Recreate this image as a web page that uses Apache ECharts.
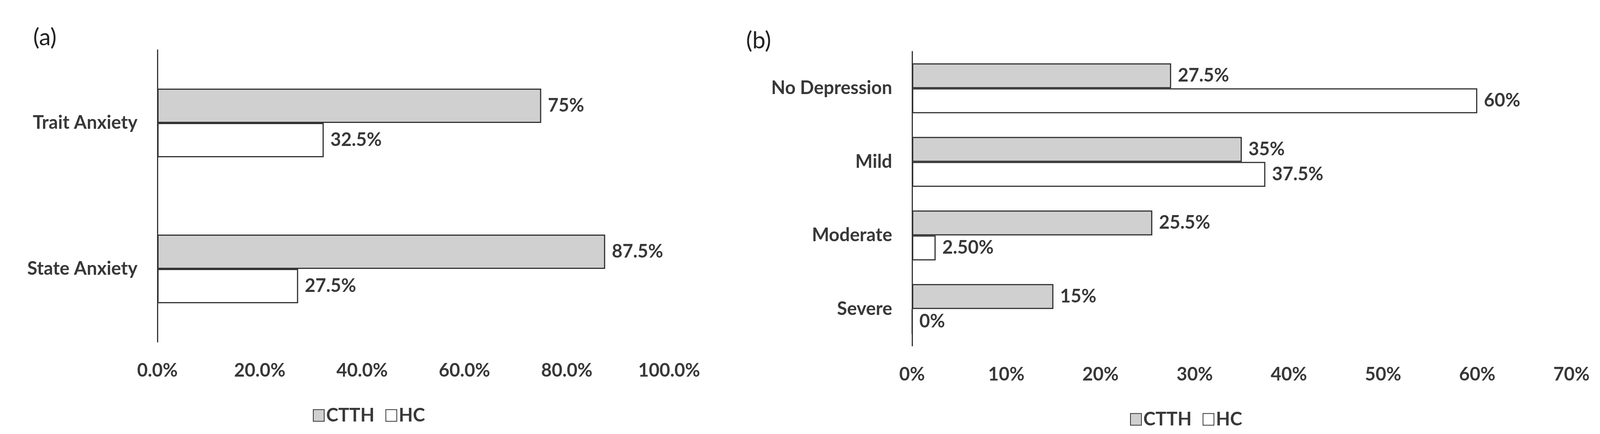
<!DOCTYPE html>
<html>
<head>
<meta charset="utf-8">
<script src="https://cdn.jsdelivr.net/npm/echarts@6/dist/echarts.min.js"></script>
<style>html,body{margin:0;padding:0;background:#fff;overflow:hidden}#c{width:100vw;height:100vh}</style>
</head>
<body>
<div id="c"></div>
<script>
// Panel (a)
const catsA = ['Trait Anxiety', 'State Anxiety'];
const ctthA = [75, 87.5];
const hcA = [32.5, 27.5];
const ctthLabelsA = ['75%', '87.5%'];
const hcLabelsA = ['32.5%', '27.5%'];
// Panel (b)
const catsB = ['No Depression', 'Mild', 'Moderate', 'Severe'];
const ctthB = [27.5, 35, 25.5, 15];
const hcB = [60, 37.5, 2.5, 0];
const ctthLabelsB = ['27.5%', '35%', '25.5%', '15%'];
const hcLabelsB = ['60%', '37.5%', '2.50%', '0%'];
const seriesNames = ['CTTH', 'HC'];

const W = window.innerWidth, H = window.innerHeight;
const sx = W / 4376, sy = H / 1112, sf = Math.min(sx, sy);
const X = v => Math.round(v * sx), Y = v => Math.round(v * sy), F = v => Math.round(v * sf);

const FONT = "Lato, sans-serif";
const TXT = '#383838';
const LINE = '#333333';
const fs = F(50);

function lbl(arr) {
  return {
    show: true, position: 'right', distance: F(18),
    fontFamily: FONT, fontWeight: 'bold', fontSize: fs, color: TXT,
    formatter: p => arr[p.dataIndex]
  };
}
function catAxis(cats, gi) {
  return {
    type: 'category', gridIndex: gi, data: cats, inverse: true,
    axisLine: {show: true, lineStyle: {color: LINE, width: 3}},
    axisTick: {show: false},
    axisLabel: {fontFamily: FONT, fontWeight: 'bold', fontSize: fs, color: TXT, margin: X(54)}
  };
}
function valAxis(gi, max, interval, fmt) {
  return {
    type: 'value', gridIndex: gi, min: 0, max: max, interval: interval,
    axisLine: {show: false}, axisTick: {show: false}, splitLine: {show: false},
    axisLabel: {fontFamily: FONT, fontWeight: 'bold', fontSize: fs, color: TXT, margin: Y(50), formatter: fmt}
  };
}
const ctthStyle = {color: '#d0d0d0', borderColor: LINE, borderWidth: 3};
const hcStyle = {color: '#ffffff', borderColor: LINE, borderWidth: 3};
const legendText = {fontFamily: FONT, fontWeight: 'bold', fontSize: fs, color: TXT};

const chart = echarts.init(document.getElementById('c'));
chart.setOption({
  backgroundColor: '#fff',
  animation: false,
  title: [
    {text: '(a)', left: X(85), top: Y(62), textStyle: {fontFamily: 'Lato', fontWeight: 'normal', fontSize: F(64), color: '#222'}},
    {text: '(b)', left: X(2035), top: Y(70), textStyle: {fontFamily: 'Lato', fontWeight: 'normal', fontSize: F(64), color: '#222'}}
  ],
  legend: [
    {data: seriesNames, icon: 'rect', left: X(850), top: Y(1036), itemWidth: F(30), itemHeight: F(32), itemGap: F(30), textStyle: legendText},
    {data: seriesNames, icon: 'rect', left: X(3085), top: Y(1046), itemWidth: F(30), itemHeight: F(32), itemGap: F(30), textStyle: legendText}
  ],
  grid: [
    {left: X(431), top: Y(128), width: X(1400), height: Y(748)},
    {left: X(2495), top: Y(132), width: X(1803), height: Y(754)}
  ],
  yAxis: [catAxis(catsA, 0), catAxis(catsB, 1)],
  xAxis: [
    valAxis(0, 100, 20, v => v.toFixed(1) + '%'),
    valAxis(1, 70, 10, v => v + '%')
  ],
  series: [
    {name: 'CTTH', type: 'bar', xAxisIndex: 0, yAxisIndex: 0, data: ctthA, barGap: '0%', barCategoryGap: '53%', itemStyle: ctthStyle, label: lbl(ctthLabelsA)},
    {name: 'HC', type: 'bar', xAxisIndex: 0, yAxisIndex: 0, data: hcA, barGap: '0%', barCategoryGap: '53%', itemStyle: hcStyle, label: lbl(hcLabelsA)},
    {name: 'CTTH', type: 'bar', xAxisIndex: 1, yAxisIndex: 1, data: ctthB, barGap: '0%', barCategoryGap: '32%', itemStyle: ctthStyle, label: lbl(ctthLabelsB)},
    {name: 'HC', type: 'bar', xAxisIndex: 1, yAxisIndex: 1, data: hcB, barGap: '0%', barCategoryGap: '32%', itemStyle: hcStyle, label: lbl(hcLabelsB)}
  ]
});
</script>
</body>
</html>
